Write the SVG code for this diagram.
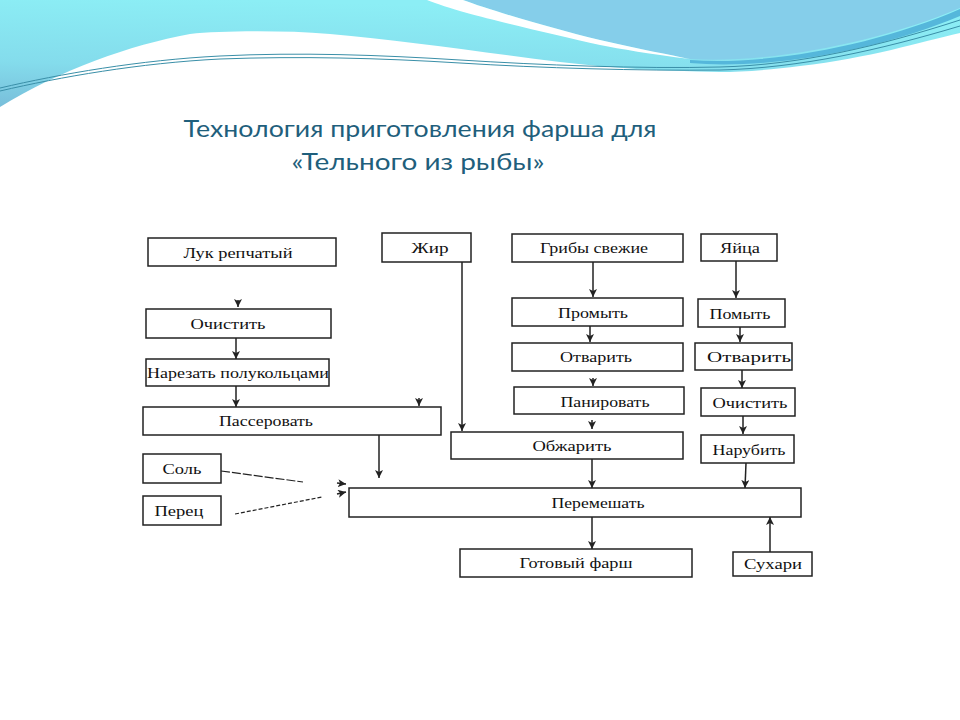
<svg xmlns="http://www.w3.org/2000/svg" width="960" height="720" viewBox="0 0 960 720">
<style>
.box{fill:#fff;stroke:#222;stroke-width:1.5}
.t{font-family:"Liberation Serif","DejaVu Serif",serif;font-size:15px;fill:#111;text-anchor:middle}
.ttl{font-family:Lato,"Open Sans","Liberation Sans",sans-serif;font-size:23px;fill:#1F5F7C;text-anchor:middle}
.ca{stroke:#222;stroke-width:1.5;fill:none;marker-end:url(#ah)}
.d1{stroke:#222;stroke-width:1.2;fill:none;stroke-dasharray:9 2}
.d2{stroke:#222;stroke-width:1.2;fill:none;stroke-dasharray:4 2}
.sw{fill:none;stroke:#3A8FA8;stroke-width:1}
</style>
<defs>
<linearGradient id="cy" x1="0.25" y1="0" x2="0" y2="1">
<stop offset="0" stop-color="#8CEEF5"/><stop offset="0.6" stop-color="#84DCEC"/><stop offset="1" stop-color="#78BEDA"/>
</linearGradient>
<marker id="ah" markerUnits="userSpaceOnUse" markerWidth="8" markerHeight="8" refX="8" refY="4" orient="auto">
<path d="M0,0 L8,4 L0,8 L2,4 z" fill="#222"/>
</marker>
</defs>
<rect width="960" height="720" fill="#fff"/>
<g id="background">
<path d="M0,0 H960 V33 C920,42 870,58 800,66 C770,70 740,72 720,72 C660,71 610,68 560,62 C480,52 400,40 330,34 C280,30 220,31 190,34 C130,45 60,70 0,107 Z" fill="url(#cy)"/>
<path d="M463,0 C490,10 550,28 600,40 C640,49 670,55 690,59 C770,64 880,42 960,8 V0 Z" fill="#85CEEA"/>
<path d="M427,0 L463,0 C490,10 550,28 600,40 C640,49 670,55 690,59 C650,54 620,49 600,45 C560,36 500,22 467,13 C450,8 437,4 427,0 Z" fill="#fff"/>
<path d="M690,60 C770,66 880,44 960,9 V16 C880,50 770,70 690,63 Z" fill="#55B7DB"/>
<path class="sw" d="M0,88 C60,74 140,60 220,56 C300,52 380,55 460,60 C540,65 640,69 720,67 C800,65 880,46 960,20"/>
<path class="sw" d="M0,91 C60,77 140,63 220,59 C300,56 380,58 460,63 C540,68 640,71 720,70 C800,68 880,50 960,26" stroke="#5FAFC4" stroke-width="0.8"/>
</g>
<g id="title">
<text class="ttl" x="420" y="137" textLength="473" lengthAdjust="spacingAndGlyphs">Технология приготовления фарша для</text>
<text class="ttl" x="418" y="170" textLength="253" lengthAdjust="spacingAndGlyphs">«Тельного из рыбы»</text>
</g>
<g id="connectors">
<line class="ca" x1="238" y1="300" x2="238" y2="307"/>
<line class="ca" x1="236" y1="338" x2="236" y2="359"/>
<line class="ca" x1="236" y1="386" x2="236" y2="407"/>
<line class="ca" x1="419" y1="398" x2="419" y2="406"/>
<line class="ca" x1="379" y1="435" x2="379" y2="478"/>
<line class="ca" x1="462" y1="262" x2="462" y2="431"/>
<line class="ca" x1="593" y1="262" x2="593" y2="297"/>
<line class="ca" x1="590" y1="326" x2="590" y2="342"/>
<line class="ca" x1="593" y1="378" x2="593" y2="386"/>
<line class="ca" x1="592" y1="420" x2="592" y2="429"/>
<line class="ca" x1="592" y1="459" x2="592" y2="488"/>
<line class="ca" x1="736" y1="261" x2="736" y2="298"/>
<line class="ca" x1="740" y1="327" x2="740" y2="342"/>
<line class="ca" x1="742" y1="370" x2="742" y2="388"/>
<line class="ca" x1="743" y1="416" x2="743" y2="434"/>
<line class="ca" x1="746" y1="463" x2="745" y2="488"/>
<line class="d1" x1="221" y1="471" x2="303" y2="482"/>
<line class="d2" x1="235" y1="514" x2="322" y2="497"/>
<line class="ca" x1="337" y1="483" x2="346" y2="484"/>
<line class="ca" x1="337" y1="494" x2="346" y2="492"/>
<line class="ca" x1="592" y1="517" x2="592" y2="549"/>
<line class="ca" x1="770" y1="552" x2="770" y2="517"/>
</g>
<g id="n-luk"><rect class="box" x="148" y="238" width="188" height="28"/><text class="t" x="238" y="258" textLength="109" lengthAdjust="spacingAndGlyphs">Лук репчатый</text></g>
<g id="n-zhir"><rect class="box" x="382" y="233" width="89" height="29"/><text class="t" x="430" y="253" textLength="37" lengthAdjust="spacingAndGlyphs">Жир</text></g>
<g id="n-griby"><rect class="box" x="512" y="234" width="171" height="28"/><text class="t" x="594" y="253" textLength="108" lengthAdjust="spacingAndGlyphs">Грибы свежие</text></g>
<g id="n-yaytsa"><rect class="box" x="701" y="234" width="76" height="27"/><text class="t" x="740" y="253" textLength="40" lengthAdjust="spacingAndGlyphs">Яйца</text></g>
<g id="n-ochistit1"><rect class="box" x="146" y="309" width="185" height="29"/><text class="t" x="228" y="329" textLength="75" lengthAdjust="spacingAndGlyphs">Очистить</text></g>
<g id="n-promyt"><rect class="box" x="512" y="298" width="171" height="28"/><text class="t" x="593" y="318" textLength="70" lengthAdjust="spacingAndGlyphs">Промыть</text></g>
<g id="n-pomyt"><rect class="box" x="698" y="299" width="87" height="28"/><text class="t" x="740" y="319" textLength="61" lengthAdjust="spacingAndGlyphs">Помыть</text></g>
<g id="n-narezat"><rect class="box" x="146" y="359" width="183" height="27"/><text class="t" x="238" y="378" textLength="182" lengthAdjust="spacingAndGlyphs">Нарезать полукольцами</text></g>
<g id="n-otvarit1"><rect class="box" x="512" y="343" width="171" height="28"/><text class="t" x="596" y="362" textLength="72" lengthAdjust="spacingAndGlyphs">Отварить</text></g>
<g id="n-otvarit2"><rect class="box" x="695" y="343" width="97" height="27"/><text class="t" x="749" y="362" textLength="84" lengthAdjust="spacingAndGlyphs">Отварить</text></g>
<g id="n-panirovat"><rect class="box" x="514" y="387" width="170" height="27"/><text class="t" x="605" y="407" textLength="89" lengthAdjust="spacingAndGlyphs">Панировать</text></g>
<g id="n-ochistit2"><rect class="box" x="701" y="388" width="94" height="28"/><text class="t" x="750" y="408" textLength="75" lengthAdjust="spacingAndGlyphs">Очистить</text></g>
<g id="n-passerovat"><rect class="box" x="143" y="407" width="298" height="28"/><text class="t" x="266" y="426" textLength="94" lengthAdjust="spacingAndGlyphs">Пассеровать</text></g>
<g id="n-obzharit"><rect class="box" x="451" y="432" width="232" height="27"/><text class="t" x="572" y="451" textLength="79" lengthAdjust="spacingAndGlyphs">Обжарить</text></g>
<g id="n-narubit"><rect class="box" x="701" y="435" width="93" height="28"/><text class="t" x="749" y="455" textLength="73" lengthAdjust="spacingAndGlyphs">Нарубить</text></g>
<g id="n-sol"><rect class="box" x="143" y="454" width="78" height="29"/><text class="t" x="182" y="474" textLength="39" lengthAdjust="spacingAndGlyphs">Соль</text></g>
<g id="n-perets"><rect class="box" x="143" y="496" width="78" height="29"/><text class="t" x="179" y="516" textLength="49" lengthAdjust="spacingAndGlyphs">Перец</text></g>
<g id="n-peremeshat"><rect class="box" x="349" y="488" width="452" height="29"/><text class="t" x="598" y="508" textLength="93" lengthAdjust="spacingAndGlyphs">Перемешать</text></g>
<g id="n-gotovyy"><rect class="box" x="460" y="549" width="232" height="28"/><text class="t" x="576" y="568" textLength="113" lengthAdjust="spacingAndGlyphs">Готовый фарш</text></g>
<g id="n-sukhari"><rect class="box" x="733" y="552" width="79" height="24"/><text class="t" x="773" y="569" textLength="58" lengthAdjust="spacingAndGlyphs">Сухари</text></g>
</svg>
